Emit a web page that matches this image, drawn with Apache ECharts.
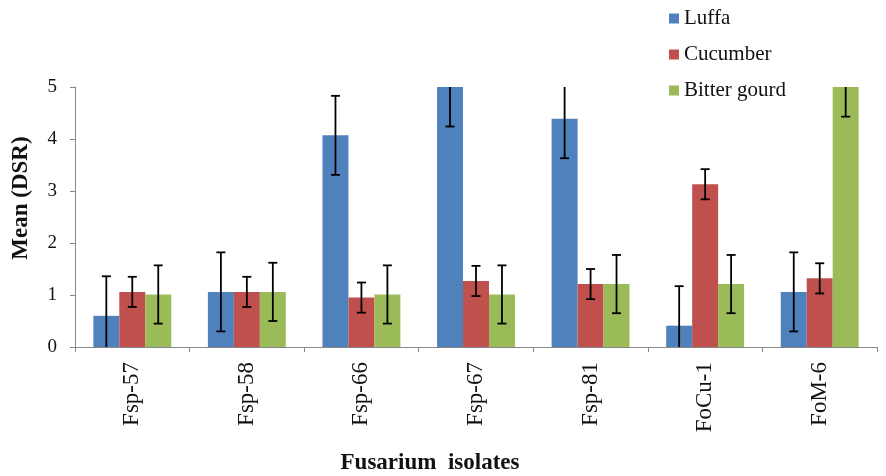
<!DOCTYPE html>
<html><head><meta charset="utf-8">
<script src="https://cdn.jsdelivr.net/npm/echarts@6/dist/echarts.min.js"></script>
<style>html,body{margin:0;padding:0;background:#fff}#c{width:886px;height:476px}</style>
</head><body><div id="c"></div>
<script>
var categories = ['Fsp-57','Fsp-58','Fsp-66','Fsp-67','Fsp-81','FoCu-1','FoM-6'];
var seriesNames = ['Luffa','Cucumber','Bitter gourd'];
var luffa = [0.6, 1.06, 4.07, 5.0, 4.39, 0.41, 1.06];
var cucumber = [1.06, 1.06, 0.95, 1.27, 1.21, 3.13, 1.32];
var bitter = [1.01, 1.06, 1.01, 1.01, 1.21, 1.21, 5.0];
var luffaErr = [0.76, 0.76, 0.76, 0.76, 0.76, 0.76, 0.76];
var cucumberErr = [0.29, 0.29, 0.29, 0.29, 0.29, 0.29, 0.29];
var bitterErr = [0.56, 0.56, 0.56, 0.56, 0.56, 0.56, 0.57];
var yTicks = [0,1,2,3,4,5];

var colors = ['#4F81BD','#C0504D','#9BBB59'];
var values = [luffa, cucumber, bitter];
var errs = [luffaErr, cucumberErr, bitterErr];
var GAP = 0.32;
var font = '"Liberation Serif", "Times New Roman", serif';

function errSeries(si){
  var data = values[si].map(function(v,i){ return [i, v, errs[si][i]]; });
  return {
    type:'custom', z:10, clip:true, silent:true,
    data:data,
    renderItem:function(params, api){
      var ci = api.value(0), v = api.value(1), e = api.value(2);
      var band = api.size([1,0])[0];
      var bw = band*(1-GAP)/3;
      var center = api.coord([ci, v])[0] + (si-1)*bw;
      var hi = api.coord([ci, v+e])[1];
      var lo = api.coord([ci, v-e])[1];
      var cap = 4.5;
      var st = {stroke:'#000', lineWidth:1.8};
      return {type:'group', children:[
        {type:'line', shape:{x1:center,y1:hi,x2:center,y2:lo}, style:st},
        {type:'line', shape:{x1:center-cap,y1:hi,x2:center+cap,y2:hi}, style:st},
        {type:'line', shape:{x1:center-cap,y1:lo,x2:center+cap,y2:lo}, style:st}
      ]};
    }
  };
}

var series = [];
for (var s=0;s<3;s++){
  series.push({name:seriesNames[s], type:'bar', data:values[s], barGap:'0%', barCategoryGap:(GAP*100)+'%',
    itemStyle:{color:colors[s]}});
}
for (var s2=0;s2<3;s2++) series.push(errSeries(s2));

var chart = echarts.init(document.getElementById('c'));
chart.setOption({
  animation:false,
  backgroundColor:'#fff',
  textStyle:{fontFamily:font},
  legend:{data:seriesNames, orient:'vertical', left:664, top:3, itemWidth:10, itemHeight:10, itemGap:15,
    icon:'rect', textStyle:{fontFamily:font, fontSize:21, color:'#111'}},
  grid:{left:75, right:9, top:87, bottom:129, containLabel:false, outerBoundsMode:'none'},
  xAxis:{type:'category', data:categories,
    axisLine:{lineStyle:{color:'#888'}},
    axisTick:{show:true, alignWithLabel:false, length:5, lineStyle:{color:'#888'}},
    axisLabel:{rotate:90, fontFamily:font, fontSize:23, color:'#111', margin:15},
    name:'Fusarium  isolates', nameLocation:'middle', nameGap:105,
    nameTextStyle:{fontFamily:font, fontSize:23, fontWeight:'bold', color:'#111', padding:[0,92,0,0]}},
  yAxis:{type:'value', min:yTicks[0], max:yTicks[yTicks.length-1], interval:1,
    splitLine:{show:false},
    axisLine:{show:true, lineStyle:{color:'#888'}},
    axisTick:{show:true, length:5, lineStyle:{color:'#888'}},
    axisLabel:{fontFamily:font, fontSize:19, color:'#111', margin:18},
    name:'Mean (DSR)', nameLocation:'middle', nameGap:42,
    nameTextStyle:{fontFamily:font, fontSize:23, fontWeight:'bold', color:'#111', padding:[0,0,0,38]}},
  series:series
});
</script></body></html>
